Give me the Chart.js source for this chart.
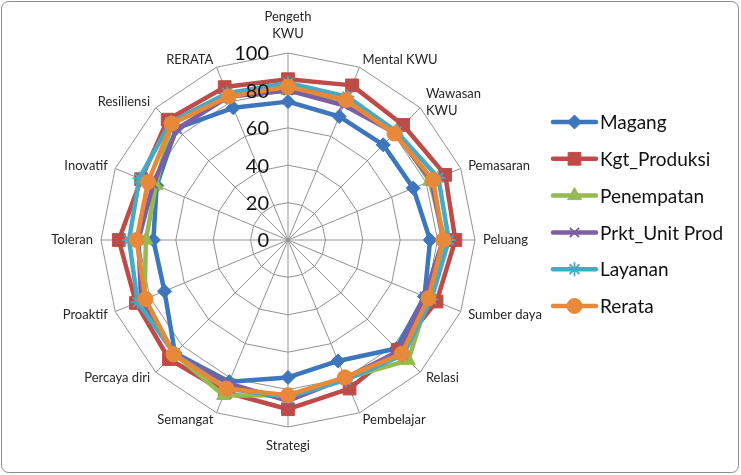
<!DOCTYPE html>
<html>
<head>
<meta charset="utf-8">
<script src="https://cdn.jsdelivr.net/npm/chart.js@4/dist/chart.umd.min.js"></script>
<style>
  html, body { margin: 0; padding: 0; background: #fff; }
  #wrap { width: 741px; height: 475px; }
</style>
</head>
<body>
<div id="wrap"><canvas id="radar" width="741" height="475"></canvas></div>
<script>
// Aspects of entrepreneurship, clockwise from the top
const categories = [
  ['Pengeth', 'KWU'], 'Mental KWU', ['Wawasan', 'KWU'], 'Pemasaran', 'Peluang',
  'Sumber daya', 'Relasi', 'Pembelajar', 'Strategi', 'Semangat',
  'Percaya diri', 'Proaktif', 'Toleran', 'Inovatif', 'Resiliensi', 'RERATA'
];

const seriesNames = ['Magang', 'Kgt_Produksi', 'Penempatan', 'Prkt_Unit Prod', 'Layanan', 'Rerata'];

const magang      = [74, 71.5, 72, 72.5, 76, 79, 82, 70, 73.5, 82, 85.5, 71.5, 72, 76, 84.5, 76.5];
const kgtProduksi = [86, 89.5, 87, 91, 89.5, 86, 83, 86, 90.5, 88, 90, 88, 90.5, 85, 91, 88.5];
const penempatan  = [80, 81, 82, 82, 84, 81, 91, 80, 83, 90, 86, 83, 76, 76.5, 88, 83];
const prktUnit    = [80, 78, 81, 83, 83, 79, 84, 80, 86, 83, 86, 85, 80, 78, 84, 83];
const layanan     = [84, 83, 82, 87, 86, 83, 87, 81, 84, 86, 86, 87, 85, 86, 89, 85];
const rerata      = [82, 81, 80.5, 84, 83, 81.3, 86, 79.5, 83, 86, 86.5, 82.5, 81, 81, 88, 83];

const tickValues = [0, 20, 40, 60, 80, 100];

const seriesValues = [magang, kgtProduksi, penempatan, prktUnit, layanan, rerata];
const seriesColors = ['#3D76BC', '#BE4B48', '#94BA52', '#7D5FA1', '#46A9C6', '#E8893A'];
const markerStyles = ['rectRot', 'rect', 'triangle', 'crossRot', 'star', 'circle'];
const markerSizes  = [7, 9, 8, 6.5, 7, 7.5];
const markerFilled = [true, true, true, false, false, true];

const FONT = 'Lato, "Open Sans", "DejaVu Sans", sans-serif';

const datasets = seriesNames.map((name, i) => ({
  label: name,
  data: seriesValues[i],
  borderColor: seriesColors[i],
  backgroundColor: seriesColors[i],
  borderWidth: 4.5,
  borderJoinStyle: 'round',
  fill: false,
  tension: 0,
  pointStyle: markerStyles[i],
  pointRadius: markerSizes[i],
  pointHoverRadius: markerSizes[i],
  pointBackgroundColor: seriesColors[i],
  pointBorderColor: seriesColors[i],
  pointBorderWidth: markerFilled[i] ? 1 : 1.8,
  order: seriesNames.length - i
}));

// Outer frame of the chart area
const framePlugin = {
  id: 'frame',
  beforeDraw(chart) {
    const ctx = chart.ctx;
    ctx.save();
    ctx.fillStyle = '#ffffff';
    ctx.fillRect(0, 0, chart.width, chart.height);
    ctx.strokeStyle = '#8c8c8c';
    ctx.lineWidth = 1;
    ctx.beginPath();
    ctx.roundRect(1.5, 1.5, chart.width - 4, chart.height - 4, 7);
    ctx.stroke();
    ctx.restore();
  }
};

// Category names around the web, and the value ticks up the vertical axis
const labelsPlugin = {
  id: 'radarText',
  afterDatasetsDraw(chart) {
    const ctx = chart.ctx;
    const r = chart.scales.r;
    ctx.save();

    // value ticks
    ctx.font = '20px ' + FONT;
    ctx.fillStyle = '#111111';
    ctx.textAlign = 'right';
    ctx.textBaseline = 'middle';
    tickValues.forEach(v => {
      const y = r.yCenter - r.getDistanceFromCenterForValue(v);
      ctx.fillText(String(v), r.xCenter - 19, y + 1);
    });

    // category labels
    ctx.font = '13px ' + FONT;
    ctx.fillStyle = '#262626';
    const lh = 17.5;
    categories.forEach((lab, i) => {
      const a = r.getIndexAngle(i);
      const dx = Math.sin(a), dy = -Math.cos(a);
      const v = r.getPointPosition(i, r.drawingArea);
      const lines = Array.isArray(lab) ? lab : [lab];
      const h = lines.length * lh;
      const centred = Math.abs(dx) < 0.01;
      const x = v.x + 8 * dx;
      let cy = v.y + 8 * dy;
      if (centred) cy += dy * (h / 2 + 2);
      ctx.textAlign = centred ? 'center' : (dx > 0 ? 'left' : 'right');
      ctx.textBaseline = 'middle';
      lines.forEach((t, k) => {
        ctx.fillText(t, x, cy - h / 2 + lh * (k + 0.5));
      });
    });
    ctx.restore();
  }
};

// Legend: line sample with its marker, then the series name
const legendPlugin = {
  id: 'sideLegend',
  afterDraw(chart) {
    const ctx = chart.ctx;
    const x0 = 553, x1 = 596, top = 122, gap = 36.8;
    ctx.save();
    chart.data.datasets.forEach((ds, i) => {
      const y = top + gap * i;
      ctx.strokeStyle = ds.borderColor;
      ctx.lineWidth = 4.5;
      ctx.lineCap = 'round';
      ctx.beginPath();
      ctx.moveTo(x0, y);
      ctx.lineTo(x1, y);
      ctx.stroke();
      ctx.lineCap = 'butt';
      ctx.fillStyle = ds.pointBackgroundColor;
      ctx.strokeStyle = ds.pointBorderColor;
      ctx.lineWidth = ds.pointBorderWidth;
      Chart.helpers.drawPoint(ctx, {
        pointStyle: ds.pointStyle,
        radius: ds.pointRadius,
        rotation: 0,
        borderWidth: ds.pointBorderWidth
      }, (x0 + x1) / 2, y);
      ctx.font = '19px ' + FONT;
      ctx.fillStyle = '#111111';
      ctx.textAlign = 'left';
      ctx.textBaseline = 'middle';
      ctx.fillText(ds.label, 600, y + 1);
    });
    ctx.restore();
  }
};

new Chart(document.getElementById('radar'), {
  type: 'radar',
  data: { labels: categories, datasets },
  options: {
    responsive: false,
    animation: false,
    events: [],
    layout: { padding: { left: 101, right: 266, top: 53, bottom: 48 } },
    plugins: {
      legend: { display: false },
      tooltip: { enabled: false },
      title: { display: false }
    },
    scales: {
      r: {
        min: tickValues[0],
        max: tickValues[tickValues.length - 1],
        ticks: { stepSize: tickValues[1] - tickValues[0], display: false },
        pointLabels: { display: false },
        grid: { color: '#939393', lineWidth: 1 },
        angleLines: { color: '#939393', lineWidth: 1 }
      }
    }
  },
  plugins: [framePlugin, labelsPlugin, legendPlugin]
});
</script>
</body>
</html>
